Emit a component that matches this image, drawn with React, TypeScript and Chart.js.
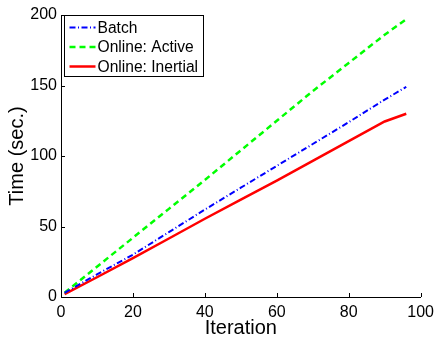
import React, { useEffect, useRef } from "react";
import { Chart, registerables } from "chart.js";

Chart.register(...registerables);

const iterations = [1, 10, 20, 30, 40, 50, 60, 70, 80, 90, 96];
const batch = [3, 16, 30, 46, 62, 77.5, 93, 108.5, 124, 140, 149];
const onlineActive = [3, 21.5, 42, 62.5, 83, 104, 125, 146, 166, 186, 197];
const onlineInertial = [2, 14, 27.5, 41.5, 55.5, 69, 82.5, 96.5, 110.5, 124.5, 130];
const seriesLabels = ["Batch", "Online: Active", "Online: Inertial"];
const xTicks = [0, 20, 40, 60, 80, 100];
const yTicks = [0, 50, 100, 150, 200];

const FONT = "'Liberation Sans', Arial, Helvetica, sans-serif";

const pts = (ys: number[]) => ys.map((y, i) => ({ x: iterations[i], y }));

const tickPlugin = {
  id: "inwardTicks",
  afterDraw(chart: any) {
    const { ctx, scales, chartArea } = chart;
    ctx.save();
    ctx.strokeStyle = "#000";
    ctx.lineWidth = 1;
    ctx.beginPath();
    xTicks.forEach((v) => {
      const px = Math.round(scales.x.getPixelForValue(v)) + 0.5;
      ctx.moveTo(px, chartArea.bottom);
      ctx.lineTo(px, chartArea.bottom - 4);
    });
    yTicks.forEach((v) => {
      const py = Math.round(scales.y.getPixelForValue(v)) + 0.5;
      ctx.moveTo(chartArea.left, py);
      ctx.lineTo(chartArea.left + 4, py);
    });
    ctx.stroke();

    // legend
    const bx = chartArea.left + 3.5;
    const by = chartArea.top + 0.5;
    const bw = 139;
    const bh = 61;
    ctx.fillStyle = "#fff";
    ctx.fillRect(bx, by, bw, bh);
    ctx.strokeStyle = "#000";
    ctx.lineWidth = 1;
    ctx.setLineDash([]);
    ctx.strokeRect(bx, by, bw, bh);
    ctx.font = `15.6px ${FONT}`;
    ctx.textBaseline = "middle";
    ctx.textAlign = "left";
    chart.data.datasets.forEach((ds: any, i: number) => {
      const y = by + 12 + i * 19.5;
      ctx.save();
      ctx.strokeStyle = ds.borderColor;
      ctx.lineWidth = ds.borderWidth;
      ctx.setLineDash(ds.borderDash || []);
      ctx.beginPath();
      ctx.moveTo(bx + 5, y);
      ctx.lineTo(bx + 31, y);
      ctx.stroke();
      ctx.restore();
      ctx.fillStyle = "#000";
      ctx.fillText(ds.label, bx + 33, y + 1);
    });
    ctx.restore();
  },
};

export default function App() {
  const ref = useRef<HTMLCanvasElement>(null);
  useEffect(() => {
    if (!ref.current) return;
    const chart = new Chart(ref.current, {
      type: "line",
      data: {
        datasets: [
          {
            label: seriesLabels[0],
            data: pts(batch),
            borderColor: "#0000FF",
            borderWidth: 2,
            borderDash: [6, 2.5, 1, 2.5],
            pointRadius: 0,
            fill: false,
          },
          {
            label: seriesLabels[1],
            data: pts(onlineActive),
            borderColor: "#00FF00",
            borderWidth: 2.5,
            borderDash: [6, 4],
            pointRadius: 0,
            fill: false,
          },
          {
            label: seriesLabels[2],
            data: pts(onlineInertial),
            borderColor: "#FF0000",
            borderWidth: 2.5,
            pointRadius: 0,
            fill: false,
          },
        ],
      },
      options: {
        responsive: false,
        animation: false,
        devicePixelRatio: 1,
        layout: { padding: { top: 15, right: 13, left: 0, bottom: 0 } },
        plugins: { legend: { display: false }, tooltip: { enabled: false } },
        scales: {
          x: {
            type: "linear",
            min: 0,
            max: 100,
            afterFit: (s: any) => {
              s.height = 40;
            },
            afterBuildTicks: (s: any) => {
              s.ticks = xTicks.map((v) => ({ value: v }));
            },
            grid: { display: false, drawTicks: false },
            border: { display: true, color: "#000", width: 1 },
            ticks: { color: "#000", padding: 6, font: { family: FONT, size: 16 }, maxRotation: 0 },
            title: {
              display: true,
              text: "Iteration",
              color: "#000",
              font: { family: FONT, size: 20 },
              padding: { top: 0, bottom: -3 },
            },
          },
          y: {
            type: "linear",
            min: 0,
            max: 200,
            afterFit: (s: any) => {
              s.width = 61;
            },
            afterBuildTicks: (s: any) => {
              s.ticks = yTicks.map((v) => ({ value: v }));
            },
            grid: { display: false, drawTicks: false },
            border: { display: true, color: "#000", width: 1 },
            ticks: { color: "#000", padding: 4, font: { family: FONT, size: 16 } },
            title: {
              display: true,
              text: "Time (sec.)",
              color: "#000",
              font: { family: FONT, size: 20 },
              padding: { top: 5, bottom: 0 },
            },
          },
        },
      },
      plugins: [tickPlugin],
    } as any);
    return () => chart.destroy();
  }, []);
  return (
    <div style={{ position: "fixed", left: 0, top: 0, width: 440, height: 337, background: "#fff" }}>
      <canvas ref={ref} width={440} height={337} style={{ display: "block" }} />
    </div>
  );
}
